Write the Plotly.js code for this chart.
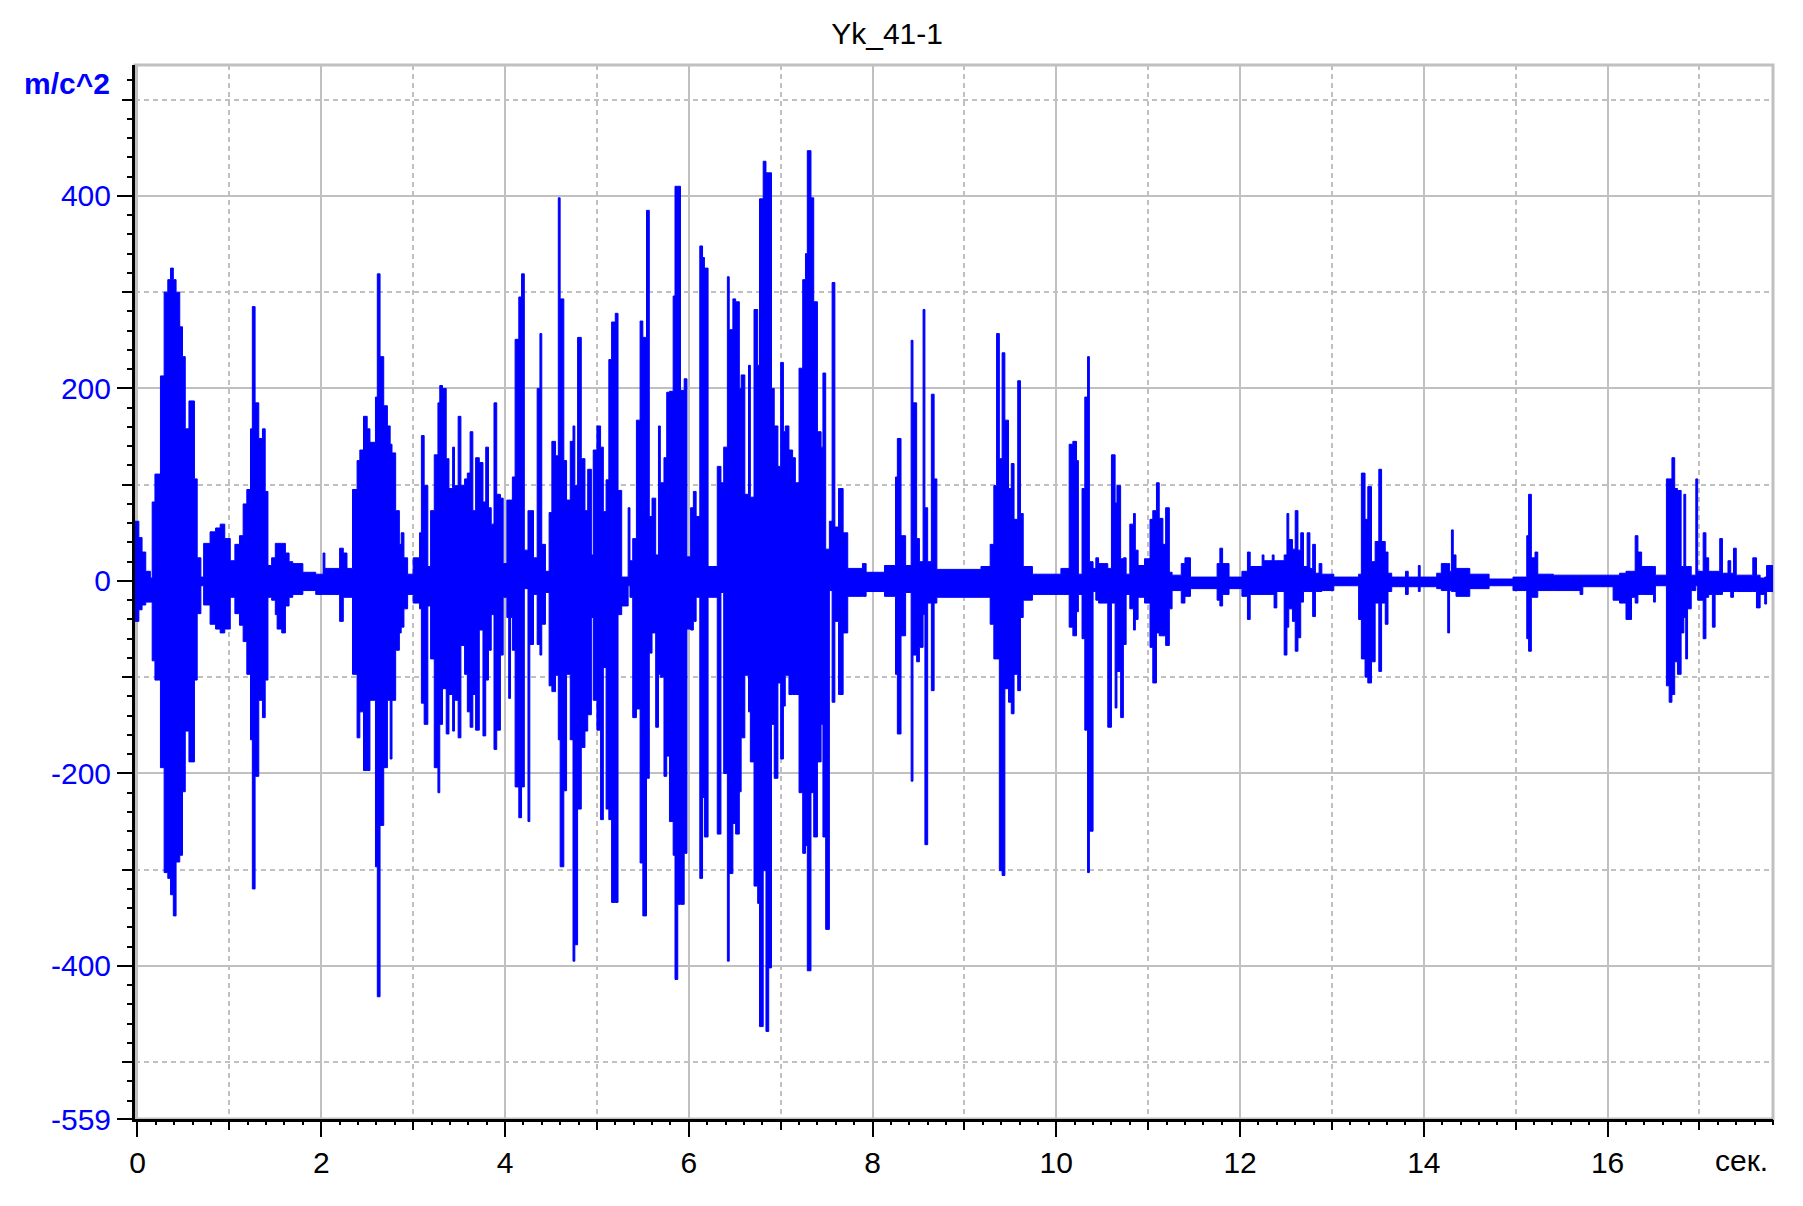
<!DOCTYPE html>
<html>
<head>
<meta charset="utf-8">
<script src="https://cdn.plot.ly/plotly-3.0.1.min.js"></script>
<style>
html,body{margin:0;padding:0;background:#fff;}
#chart{width:1803px;height:1206px;}
</style>
</head>
<body>
<div id="chart"></div>
<script>
// ---- Data: signal envelope as blocks (start time, s) ----
const chartTitle = 'Yk_41-1';
const yUnit = 'm/c^2';
const xUnit = 'сек.';
const endTime = 17.8;

const blockStart = [
  -0.03,0.015,0.05,0.09,0.14,0.16,0.19,0.25,0.29,0.33,0.36,0.39,0.42,0.46,0.49,0.52,0.56,0.62,0.65,0.69,0.72,0.79,0.85,0.90,0.95,
  1.01,1.06,1.11,1.15,1.19,1.23,1.25,1.28,1.32,1.36,1.39,1.42,1.46,1.50,1.52,1.57,1.61,1.65,1.69,1.80,1.94,
  2.02,2.04,2.20,2.24,2.28,2.34,2.39,2.42,2.46,2.50,2.53,2.59,2.61,2.64,2.68,2.72,2.75,2.77,2.81,2.85,2.87,2.90,2.94,
  3.00,3.07,3.09,3.12,3.16,3.19,3.23,3.27,3.29,3.32,3.36,3.39,3.43,3.45,3.49,3.52,3.56,3.59,3.62,3.65,3.68,3.72,3.76,3.79,3.82,3.85,3.88,3.91,3.95,3.98,
  4.02,4.04,4.06,4.08,4.11,4.15,4.18,4.21,4.25,4.27,4.31,4.35,4.38,4.40,4.44,4.48,4.51,4.55,4.58,4.60,4.64,4.67,4.71,4.74,4.76,4.79,4.83,4.87,4.90,4.94,4.96,
  5.00,5.04,5.07,5.10,5.13,5.16,5.20,5.23,5.27,5.34,5.36,5.39,5.43,5.47,5.50,5.54,5.57,5.60,5.64,5.67,5.69,5.73,5.76,5.79,5.83,5.85,5.88,5.91,5.95,5.98,
  6.02,6.05,6.08,6.12,6.15,6.17,6.21,6.31,6.35,6.38,6.42,6.44,6.48,6.51,6.55,6.57,6.61,6.65,6.67,6.71,6.75,6.77,6.81,6.84,6.87,6.90,6.93,6.97,
  7.00,7.03,7.05,7.09,7.13,7.16,7.20,7.24,7.27,7.29,7.33,7.36,7.40,7.44,7.46,7.49,7.53,7.56,7.59,7.63,7.68,7.73,7.89,7.93,
  8.13,8.25,8.27,8.31,8.36,8.42,8.44,8.48,8.51,8.55,8.57,8.60,8.64,8.67,8.70,
  9.18,9.28,9.32,9.35,9.38,9.41,9.44,9.48,9.51,9.54,9.58,9.61,9.64,9.74,
  10.05,10.14,10.18,10.22,10.24,10.28,10.31,10.34,10.36,10.40,10.43,10.46,10.56,10.60,10.64,10.66,10.70,10.73,10.76,10.80,10.84,10.86,10.89,10.96,
  11.02,11.05,11.09,11.12,11.16,11.19,11.23,11.26,11.36,11.40,11.46,11.75,11.78,11.81,11.88,
  12.02,12.08,12.11,12.24,12.26,12.35,12.37,12.40,12.48,12.51,12.53,12.57,12.60,12.63,12.66,12.69,12.73,12.76,12.79,12.82,12.86,12.89,
  13.02,13.29,13.32,13.36,13.39,13.43,13.47,13.51,13.54,13.58,13.61,13.65,13.80,13.83,13.94,13.96,
  14.14,14.19,14.26,14.28,14.30,14.32,14.35,14.50,14.71,14.97,
  15.12,15.14,15.17,15.21,15.24,15.41,15.70,15.73,
  16.06,16.13,16.20,16.26,16.30,16.33,16.37,16.50,16.52,16.64,16.67,16.70,16.73,16.76,16.80,16.83,16.85,16.87,16.91,16.96,16.98,
  17.04,17.07,17.10,17.14,17.17,17.22,17.25,17.31,17.34,17.37,17.40,17.58,17.62,17.66,17.71,17.73
];

const upperPeak = [
  62,45,30,10,3,82,111,213,300,313,325,313,300,264,233,158,187,106,24,4,39,51,55,59,44,
  21,38,47,80,95,158,285,185,148,158,93,16,24,39,39,39,29,20,18,9,7,
  29,13,34,29,13,95,125,136,171,158,144,191,319,233,182,161,142,133,73,38,50,24,7,
  24,50,151,99,15,73,131,185,203,200,127,96,139,99,171,99,106,112,155,73,128,123,82,139,76,59,185,90,86,18,
  84,84,84,108,251,295,319,32,73,73,24,200,257,38,10,71,145,130,398,293,125,84,145,161,99,253,127,73,116,27,136,
  161,139,72,105,230,269,278,94,4,76,21,44,167,270,253,385,67,86,27,161,102,128,196,197,296,410,410,198,210,25,
  76,93,67,348,336,325,15,119,102,139,316,261,293,290,200,214,90,224,87,282,224,397,436,424,424,200,161,119,
  227,155,161,136,128,102,221,313,340,447,398,290,155,139,216,33,62,310,56,96,50,13,18,9,
  16,108,148,47,16,250,185,44,20,282,76,20,194,106,12,
  15,38,99,257,127,237,167,96,122,64,208,70,15,7,
  13,142,145,125,7,96,191,233,20,13,24,18,13,131,81,99,23,24,7,59,70,32,16,23,
  64,73,102,65,38,76,9,6,18,24,4,18,34,18,4,
  10,30,15,27,21,27,21,21,27,70,43,33,73,32,50,15,50,13,38,8,18,7,
  4,7,112,64,98,20,41,116,41,30,8,4,10,4,16,4,
  8,18,18,10,53,27,13,7,2,4,
  47,90,24,30,7,6,6,6,
  6,8,10,10,47,30,15,15,6,106,106,128,96,94,15,90,15,15,6,106,10,
  50,24,10,10,10,44,8,21,8,34,6,24,6,3,4,16
];

const lowerPeak = [
  -42,-30,-25,-22,-22,-83,-103,-194,-303,-309,-326,-348,-292,-285,-219,-156,-188,-103,-34,-5,-25,-45,-50,-54,-50,
  -17,-34,-46,-63,-97,-165,-320,-203,-124,-142,-103,-17,-20,-35,-50,-54,-26,-17,-14,-10,-14,
  -14,-14,-42,-17,-17,-97,-163,-136,-197,-197,-124,-297,-432,-254,-194,-124,-185,-124,-72,-54,-48,-29,-14,
  -23,-29,-127,-149,-26,-81,-194,-220,-149,-112,-159,-118,-156,-124,-163,-67,-97,-136,-152,-118,-155,-51,-161,-103,-72,-35,-175,-155,-77,-17,
  -38,-122,-38,-72,-214,-246,-214,-8,-250,-66,-14,-66,-77,-45,-12,-109,-115,-98,-165,-297,-218,-97,-165,-395,-378,-237,-173,-156,-139,-38,-124,
  -155,-248,-90,-237,-248,-334,-334,-35,-26,-5,-17,-142,-133,-293,-348,-205,-75,-54,-152,-97,-100,-203,-182,-250,-285,-414,-336,-336,-283,-50,
  -51,-42,-17,-309,-225,-266,-17,-263,-12,-200,-395,-304,-252,-263,-219,-163,-98,-136,-188,-317,-335,-463,-301,-468,-402,-149,-205,-106,
  -185,-130,-98,-118,-118,-118,-220,-283,-275,-405,-220,-266,-188,-149,-266,-362,-10,-126,-42,-118,-54,-16,-16,-11,
  -16,-97,-159,-57,-12,-208,-77,-84,-69,-35,-274,-23,-114,-23,-17,
  -17,-45,-81,-81,-301,-306,-112,-126,-138,-97,-114,-38,-20,-14,
  -14,-48,-57,-32,-14,-60,-155,-303,-260,-11,-20,-23,-152,-23,-132,-94,-142,-66,-14,-29,-51,-40,-17,-23,
  -69,-106,-54,-57,-57,-67,-29,-10,-23,-16,-8,-20,-26,-14,-8,
  -16,-40,-14,-14,-14,-14,-28,-11,-77,-48,-29,-42,-73,-59,-22,-11,-11,-11,-37,-11,-11,-10,
  -5,-40,-81,-100,-106,-84,-23,-94,-23,-45,-11,-6,-14,-6,-11,-6,
  -8,-10,-54,-10,-11,-11,-16,-8,-5,-10,
  -60,-73,-17,-17,-10,-10,-14,-6,
  -20,-23,-40,-17,-23,-14,-14,-22,-5,-109,-126,-118,-84,-97,-54,-38,-81,-29,-10,-5,-20,
  -60,-17,-14,-48,-14,-14,-11,-11,-17,-11,-11,-11,-28,-14,-24,-11
];

const yTickVals = [-559, -400, -200, 0, 200, 400];
const yTickText = ['-559', '-400', '-200', '0', '200', '400'];

// ---- Build traces ----
if (blockStart.length !== upperPeak.length || blockStart.length !== lowerPeak.length) {
  console.error('length mismatch', blockStart.length, upperPeak.length, lowerPeak.length);
}
const xs = blockStart.concat([endTime]);
const yUp = upperPeak.concat([upperPeak[upperPeak.length - 1]]);
const yLo = lowerPeak.concat([lowerPeak[lowerPeak.length - 1]]);

const BLUE = '#0000ff';
const GRID = '#c0c0c0';
const FONT = 'Liberation Sans, Arial, Helvetica, sans-serif';
const X_RANGE = [-0.027, 17.8];
const Y_RANGE = [-559, 536];

const traces = [
  {x: xs, y: yUp, type: 'scatter', mode: 'lines', line: {shape: 'hv', color: BLUE, width: 1},
   fill: 'tozeroy', fillcolor: BLUE, hoverinfo: 'skip'},
  {x: xs, y: yLo, type: 'scatter', mode: 'lines', line: {shape: 'hv', color: BLUE, width: 1},
   fill: 'tozeroy', fillcolor: BLUE, hoverinfo: 'skip'},
  // empty traces so the overlay tick axes exist
  {x: [], y: [], type: 'scatter', mode: 'lines', xaxis: 'x', yaxis: 'y2', hoverinfo: 'skip'},
  {x: [], y: [], type: 'scatter', mode: 'lines', xaxis: 'x2', yaxis: 'y', hoverinfo: 'skip'}
];

const layout = {
  width: 1803, height: 1206,
  paper_bgcolor: '#ffffff', plot_bgcolor: '#ffffff',
  margin: {l: 135, r: 30, t: 65, b: 87, pad: 0},
  showlegend: false,
  font: {family: FONT, size: 30, color: '#000'},
  title: {text: chartTitle, xref: 'container', x: 0.492, xanchor: 'center',
          yref: 'container', y: 1 - 33 / 1206, yanchor: 'middle',
          font: {family: FONT, size: 30, color: '#000'}},
  xaxis: {
    range: X_RANGE, tickmode: 'linear', tick0: 0, dtick: 2,
    ticks: 'outside', ticklen: 15, tickwidth: 2, tickcolor: '#000',
    showline: true, linecolor: '#000', linewidth: 3,
    showgrid: true, gridcolor: GRID, gridwidth: 2, zeroline: false,
    tickfont: {family: FONT, size: 30, color: '#000'},
    minor: {tickmode: 'linear', tick0: 0, dtick: 1, ticks: 'outside', ticklen: 8, tickwidth: 2,
            tickcolor: '#000', showgrid: true, gridcolor: GRID, gridwidth: 2, griddash: '5px,4px'},
    fixedrange: true
  },
  xaxis2: {
    overlaying: 'x', anchor: 'y', side: 'bottom', range: X_RANGE,
    tickmode: 'linear', tick0: 0, dtick: 0.2, ticks: 'outside', ticklen: 5, tickwidth: 2,
    tickcolor: '#000', showticklabels: false, showgrid: false, zeroline: false, showline: false,
    fixedrange: true
  },
  yaxis: {
    range: Y_RANGE, tickmode: 'array', tickvals: yTickVals, ticktext: yTickText,
    ticks: 'outside', ticklen: 15, tickwidth: 2, tickcolor: '#000',
    showline: true, linecolor: '#000', linewidth: 3,
    showgrid: true, gridcolor: GRID, gridwidth: 2, zeroline: false,
    tickfont: {family: FONT, size: 30, color: BLUE},
    minor: {tickmode: 'linear', tick0: 0, dtick: 100, ticks: 'outside', ticklen: 10, tickwidth: 2,
            tickcolor: '#000', showgrid: true, gridcolor: GRID, gridwidth: 2, griddash: '5px,4px'},
    fixedrange: true
  },
  yaxis2: {
    overlaying: 'y', anchor: 'x', side: 'left', range: Y_RANGE,
    tickmode: 'linear', tick0: 0, dtick: 20, ticks: 'outside', ticklen: 7, tickwidth: 2,
    tickcolor: '#000', showticklabels: false, showgrid: false, zeroline: false, showline: false,
    fixedrange: true
  },
  shapes: [
    {type: 'rect', xref: 'paper', yref: 'paper', x0: 0, x1: 1, y0: 0, y1: 1,
     line: {color: GRID, width: 3}, fillcolor: 'rgba(0,0,0,0)', layer: 'below'}
  ],
  annotations: [
    {text: '<b>' + yUnit + '</b>', xref: 'paper', yref: 'paper', x: -0.014, y: 0.982,
     xanchor: 'right', yanchor: 'middle', showarrow: false,
     font: {family: FONT, size: 30, color: BLUE}},
    {text: xUnit, xref: 'paper', yref: 'paper', x: 0.998, y: -0.039,
     xanchor: 'right', yanchor: 'middle', showarrow: false,
     font: {family: FONT, size: 30, color: '#000'}}
  ]
};

Plotly.newPlot('chart', traces, layout, {displayModeBar: false, staticPlot: true});
</script>
</body>
</html>
